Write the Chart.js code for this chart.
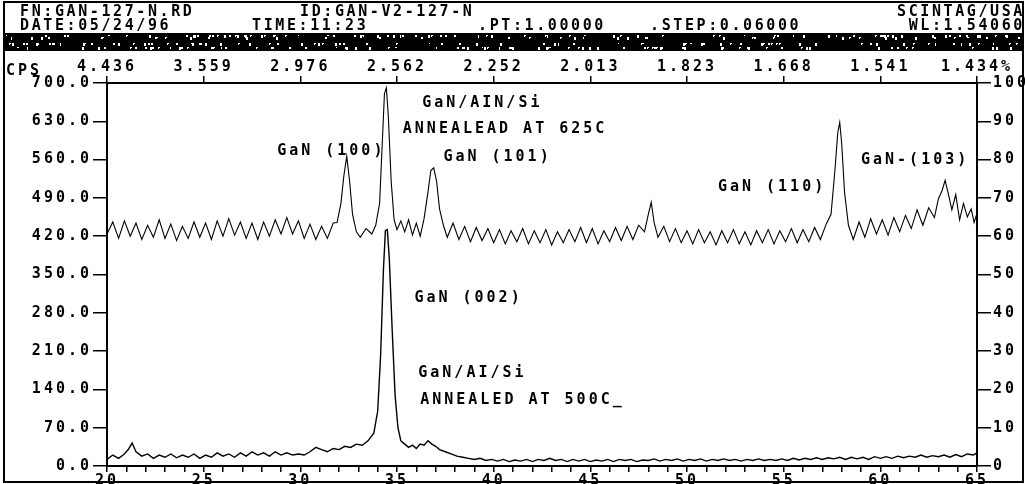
<!DOCTYPE html>
<html>
<head>
<meta charset="utf-8">
<script src="https://cdn.jsdelivr.net/npm/chart.js@4"></script>
<style>
  html, body { margin: 0; padding: 0; background: #fff; }
  #wrap { width: 1025px; height: 484px; position: relative; }
</style>
</head>
<body>
<div id="wrap"><canvas id="xrdChart" width="1025" height="484"></canvas></div>
<script>
// upper scan: GaN/AlN/Si annealed at 625C (2-theta in degrees, counts per second)
const upperAngle = [20.0,20.3,20.6,20.9,21.2,21.5,21.8,22.1,22.4,22.7,23.0,23.3,23.6,23.9,24.2,24.5,24.8,25.1,25.4,25.7,
  26.0,26.3,26.6,26.9,27.2,27.5,27.8,28.1,28.4,28.7,29.0,29.3,29.6,29.9,30.2,30.5,30.8,31.1,31.4,31.7,
  31.9,32.1,32.25,32.4,32.55,32.7,32.9,33.1,33.4,33.7,33.9,34.1,34.25,34.35,34.45,34.55,34.7,34.85,35.0,35.2,
  35.4,35.6,35.8,36.0,36.2,36.4,36.6,36.75,36.9,37.05,37.2,37.4,37.6,37.9,38.2,38.5,38.8,39.1,39.4,39.7,
  40.0,40.3,40.6,40.9,41.2,41.5,41.8,42.1,42.4,42.7,43.0,43.3,43.6,43.9,44.2,44.5,44.8,45.1,45.4,45.7,
  46.0,46.3,46.6,46.9,47.2,47.5,47.8,48.0,48.15,48.3,48.5,48.8,49.1,49.4,49.7,50.0,50.3,50.6,50.9,51.2,
  51.5,51.8,52.1,52.4,52.7,53.0,53.3,53.6,53.9,54.2,54.5,54.8,55.1,55.4,55.7,56.0,56.3,56.6,56.9,57.2,
  57.45,57.65,57.8,57.9,58.0,58.15,58.35,58.6,58.9,59.2,59.5,59.8,60.1,60.4,60.7,61.0,61.3,61.6,61.9,62.2,
  62.5,62.8,63.0,63.2,63.35,63.5,63.7,63.9,64.1,64.3,64.5,64.7,64.85,65.0];
const upperCps = [424,446,416,448,420,444,414,440,418,450,416,442,412,438,416,446,418,444,414,448,
  420,452,422,446,416,444,414,446,420,450,424,454,424,448,416,442,414,438,416,444,
  445,480,530,566,520,460,428,418,434,424,440,480,600,680,691,640,520,450,432,448,
  428,450,422,444,420,452,500,540,545,520,470,440,418,444,414,438,410,436,412,434,
  408,432,406,430,410,434,406,430,408,432,404,428,408,432,410,436,408,434,406,430,
  410,436,412,438,414,440,428,460,482,445,418,438,410,434,408,430,406,432,408,428,
  404,430,408,432,406,428,404,430,408,432,406,430,410,434,408,432,410,436,414,442,
  460,540,610,628,590,500,440,414,446,418,452,424,450,422,454,428,458,434,468,440,
  472,454,488,504,522,500,468,496,450,480,455,470,445,462];

// lower scan: GaN/Al/Si annealed at 500C
const lowerAngle = [20.0,20.3,20.6,20.9,21.1,21.3,21.5,21.8,22.1,22.4,22.7,23.0,23.3,23.6,23.9,24.2,24.5,24.8,25.1,25.4,
  25.7,26.0,26.3,26.6,26.9,27.2,27.5,27.8,28.1,28.4,28.7,29.0,29.3,29.6,29.9,30.2,30.5,30.8,31.1,31.4,
  31.7,32.0,32.3,32.6,32.9,33.2,33.5,33.8,34.0,34.15,34.3,34.4,34.5,34.6,34.75,34.9,35.05,35.2,35.4,35.6,
  35.8,36.0,36.2,36.4,36.6,36.8,37.0,37.2,37.5,37.8,38.1,38.4,38.7,39.0,39.3,39.6,39.9,40.2,40.5,40.8,
  41.1,41.4,41.7,42.0,42.3,42.6,42.9,43.2,43.5,43.8,44.1,44.4,44.7,45.0,45.3,45.6,45.9,46.2,46.5,46.8,
  47.1,47.4,47.7,48.0,48.3,48.6,48.9,49.2,49.5,49.8,50.1,50.4,50.7,51.0,51.3,51.6,51.9,52.2,52.5,52.8,
  53.1,53.4,53.7,54.0,54.3,54.6,54.9,55.2,55.5,55.8,56.1,56.4,56.7,57.0,57.3,57.6,57.9,58.2,58.5,58.8,
  59.1,59.4,59.7,60.0,60.3,60.6,60.9,61.2,61.5,61.8,62.1,62.4,62.7,63.0,63.3,63.6,63.9,64.2,64.5,64.8,65.0];
const lowerCps = [12,20,14,22,30,42,26,18,22,14,20,16,22,15,20,16,22,14,20,16,
  24,18,22,16,24,18,26,20,24,18,26,20,24,20,22,20,26,34,30,26,
  32,30,36,34,40,38,46,60,100,200,360,430,432,380,250,130,70,46,40,34,
  38,32,40,38,46,40,36,30,26,22,18,16,14,12,14,10,12,9,12,8,
  11,9,12,8,12,10,14,10,12,8,12,9,12,8,11,9,12,8,12,10,
  12,8,11,10,13,9,12,10,13,9,12,10,13,9,12,10,13,10,12,9,
  12,10,13,10,12,10,13,10,14,11,14,12,15,12,15,13,16,12,16,13,
  16,12,17,14,17,14,18,15,18,16,20,16,19,17,20,16,21,17,22,20,24];

// top axis: d-spacing (angstrom) at 20, 25, ... 65 degrees
const topLabels = ['4.436','3.559','2.976','2.562','2.252','2.013','1.823','1.668','1.541','1.434%'];

const headerLeft = [
  ['FN:GAN-127-N.RD', 20, 12], ['ID:GAN-V2-127-N', 300, 12],
  ['DATE:05/24/96', 20, 26], ['TIME:11:23', 252, 26], ['.PT:1.00000', 478, 26], ['.STEP:0.06000', 650, 26]
];
const headerRight = [['SCINTAG/USA', 1022, 12], ['WL:1.54060', 1022, 26]];

// peak notes, placed in data units (degrees, cps)
const notes = [
  ['GaN/AIN/Si', 36.3, 663], ['ANNEALEAD AT 625C', 35.3, 616],
  ['GaN (100)', 28.8, 575], ['GaN (101)', 37.4, 564],
  ['GaN (110)', 51.6, 509], ['GaN-(103)', 59.0, 559],
  ['GaN (002)', 35.9, 307], ['GaN/AI/Si', 36.1, 169], ['ANNEALED AT 500C_', 36.2, 121]
];

const FONT = 'bold 15px "DejaVu Sans Mono"';
const tickFont = { family: 'DejaVu Sans Mono', size: 15, weight: 'bold' };

const pairs = (xs, ys) => xs.map((x, i) => ({ x: x, y: ys[i] }));

const plotterText = {
  id: 'plotterText',
  beforeDraw(chart) {
    chart.ctx.letterSpacing = '3px';
  },
  afterDraw(chart) {
    const ctx = chart.ctx;
    const xs = chart.scales.x, ys = chart.scales.y;
    ctx.save();
    ctx.fillStyle = '#000';
    ctx.strokeStyle = '#000';
    ctx.font = FONT;
    ctx.textBaseline = 'middle';

    // outer frame
    ctx.lineWidth = 2;
    ctx.strokeRect(4, 2, 1019, 480);

    // header band, dark with scattered light specks
    ctx.fillStyle = '#000';
    ctx.fillRect(4, 33, 1019, 18);
    ctx.fillStyle = '#fff';
    for (let i = 0; i < 520; i++) {
      const px = 6 + (i * i * 7 + i * 13) % 1013;
      const py = 35 + (i * i * 3 + i * 5) % 14;
      ctx.fillRect(px, py, 1 + (i % 2), 1 + ((i * 7) % 3));
    }

    ctx.fillStyle = '#000';
    ctx.letterSpacing = '2.6px';
    ctx.textAlign = 'left';
    headerLeft.forEach(h => ctx.fillText(h[0], h[1], h[2]));
    ctx.textAlign = 'right';
    headerRight.forEach(h => ctx.fillText(h[0], h[1] + 3, h[2]));

    ctx.letterSpacing = '3px';
    ctx.textAlign = 'left';
    ctx.fillText('CPS', 6, 71);
    notes.forEach(n => ctx.fillText(n[0], xs.getPixelForValue(n[1]), ys.getPixelForValue(n[2])));
    ctx.restore();
  }
};

new Chart(document.getElementById('xrdChart').getContext('2d'), {
  type: 'line',
  data: {
    datasets: [{
      label: 'GaN/AlN/Si 625C',
      data: pairs(upperAngle, upperCps),
      borderColor: '#000',
      borderWidth: 1.1,
      pointRadius: 0,
      tension: 0,
      fill: false
    }, {
      label: 'GaN/Al/Si 500C',
      data: pairs(lowerAngle, lowerCps),
      borderColor: '#000',
      borderWidth: 1.4,
      pointRadius: 0,
      tension: 0,
      fill: false
    }]
  },
  options: {
    responsive: false,
    animation: false,
    events: [],
    layout: { padding: 0 },
    plugins: { legend: { display: false }, tooltip: { enabled: false } },
    scales: {
      x: {
        type: 'linear', position: 'bottom', min: 20, max: 65,
        afterFit: s => { s.height = 18; },
        ticks: {
          stepSize: 1, autoSkip: false, maxRotation: 0, padding: 0, color: '#000', font: tickFont,
          callback: v => (v % 5 === 0 ? String(v) : '')
        },
        grid: { drawOnChartArea: false, tickLength: 6, color: '#000', lineWidth: 1.5 },
        border: { color: '#000', width: 2 }
      },
      x2: {
        type: 'linear', position: 'top', min: 20, max: 65,
        afterFit: s => { s.height = 83; },
        ticks: {
          stepSize: 5, autoSkip: false, maxRotation: 0, padding: 0, color: '#000', font: tickFont,
          callback: v => topLabels[Math.round((v - 20) / 5)]
        },
        grid: { drawOnChartArea: false, tickLength: 7, color: '#000', lineWidth: 1.5 },
        border: { color: '#000', width: 2 }
      },
      y: {
        position: 'left', min: 0, max: 700,
        afterFit: s => { s.width = 107; },
        ticks: { stepSize: 70, padding: 1, color: '#000', font: tickFont, callback: v => v.toFixed(1) },
        grid: { drawOnChartArea: false, tickLength: 14, color: '#000', lineWidth: 1.5 },
        border: { color: '#000', width: 2 }
      },
      y2: {
        position: 'right', min: 0, max: 100,
        afterFit: s => { s.width = 48; },
        ticks: { stepSize: 10, padding: 2, color: '#000', font: tickFont },
        grid: { drawOnChartArea: false, tickLength: 14, color: '#000', lineWidth: 1.5 },
        border: { color: '#000', width: 2 }
      }
    }
  },
  plugins: [plotterText]
});
</script>
</body>
</html>
